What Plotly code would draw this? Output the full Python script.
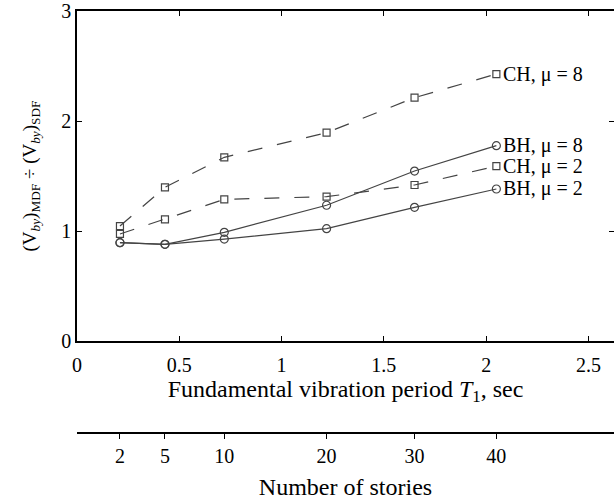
import plotly.graph_objects as go

# Data
periods = [0.21, 0.43, 0.72, 1.22, 1.65, 2.05]          # T1, sec
stories = ["2", "5", "10", "20", "30", "40"]            # number of stories
ch_mu8 = [1.045, 1.397, 1.67, 1.894, 2.212, 2.427]
bh_mu8 = [0.894, 0.879, 0.988, 1.234, 1.545, 1.776]
ch_mu2 = [0.973, 1.106, 1.288, 1.312, 1.418, 1.59]
bh_mu2 = [0.894, 0.879, 0.927, 1.021, 1.215, 1.382]
series_labels = ["CH, μ = 8", "BH, μ = 8", "CH, μ = 2", "BH, μ = 2"]
x_ticks = [0, 0.5, 1, 1.5, 2, 2.5]
x_ticktext = ["0", "0.5", "1", "1.5", "2", "2.5"]
y_ticks = [0, 1, 2, 3]

FONT = "Liberation Serif"
LC = "#444444"

fig = go.Figure()
series = [
    (ch_mu8, "square-open", "15px,15px", 7),
    (bh_mu8, "circle-open", "solid", 8),
    (ch_mu2, "square-open", "15px,15px", 7),
    (bh_mu2, "circle-open", "solid", 8),
]
for (vals, sym, dash, ms), lab in zip(series, series_labels):
    fig.add_trace(go.Scatter(
        x=periods, y=vals, mode="lines+markers", name=lab,
        line=dict(color=LC, width=1.2, dash=dash),
        marker=dict(symbol=sym, size=ms, color=LC, line=dict(width=1.2, color=LC)),
        showlegend=False, hoverinfo="x+y",
    ))
    fig.add_annotation(x=periods[-1], y=vals[-1], text=lab, xref="x", yref="y",
                       xanchor="left", yanchor="middle", showarrow=False, xshift=5,
                       font=dict(family=FONT, size=20, color="black"))

# invisible helpers to materialise the secondary axes
fig.add_trace(go.Scatter(x=periods, y=[None] * len(periods), xaxis="x2", yaxis="y",
                         mode="markers", showlegend=False, hoverinfo="skip"))
fig.add_trace(go.Scatter(x=[None], y=[None], xaxis="x", yaxis="y2",
                         mode="markers", showlegend=False, hoverinfo="skip"))

xr = [0, 2.625]
fig.update_layout(
    width=614, height=502,
    margin=dict(l=77, r=0, t=11, b=69, autoexpand=False),
    plot_bgcolor="white", paper_bgcolor="white",
    font=dict(family=FONT, size=20, color="black"),
    xaxis=dict(range=xr, domain=[0, 1], anchor="y", tickvals=x_ticks, ticktext=x_ticktext,
               ticks="inside", ticklen=5, tickcolor="black", showline=True, linecolor="black",
               linewidth=1.5, mirror="ticks", showgrid=False, zeroline=False, automargin=False,
               ticklabelstandoff=5,
               title=dict(text="Fundamental vibration period <i>T</i><sub>1</sub>, sec", standoff=4),
               tickfont=dict(size=20)),
    yaxis=dict(range=[0, 3], domain=[0.218, 1], anchor="x", tickvals=y_ticks,
               ticks="inside", ticklen=5, tickcolor="black", showline=True, linecolor="black",
               linewidth=1.5, mirror=False, showgrid=False, zeroline=False, automargin=False,
               title=dict(text="(V<sub><i>by</i></sub>)<sub>MDF</sub> ÷ (V<sub><i>by</i></sub>)<sub>SDF</sub>",
                          standoff=20, font=dict(size=19)),
               tickfont=dict(size=20)),
    yaxis2=dict(range=[0, 3], overlaying="y", side="right", anchor="x", tickvals=y_ticks,
                ticks="inside", ticklen=5, tickcolor="black", showline=False, automargin=False,
                showticklabels=False, showgrid=False, zeroline=False),
    xaxis2=dict(range=xr, overlaying="x", anchor="free", position=0, side="bottom",
                tickvals=periods, ticktext=stories, ticks="outside", ticklen=5,
                tickcolor="black", showline=True, linecolor="black", linewidth=1.5,
                showgrid=False, zeroline=False, automargin=False,
                title=dict(text="Number of stories", standoff=11),
                tickfont=dict(size=20)),
)

fig.write_html("out.html", config={"displayModeBar": False},
               post_script="document.body.style.margin='0';")
